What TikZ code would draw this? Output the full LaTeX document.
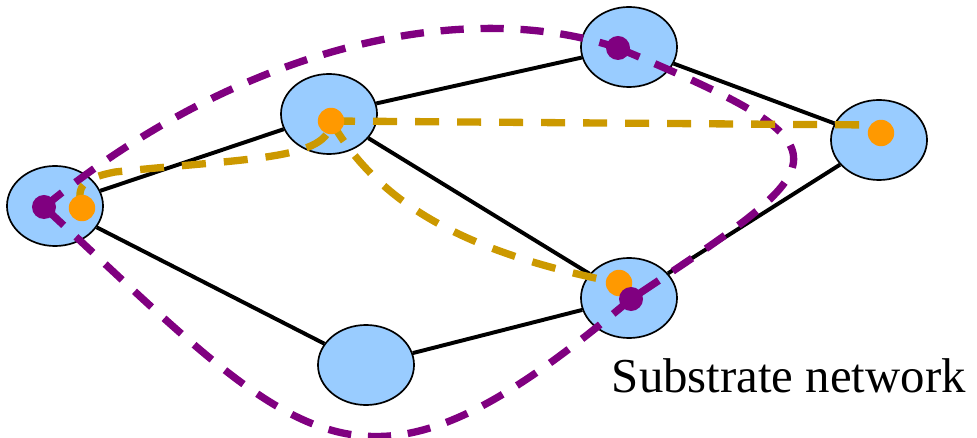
\documentclass[tikz,border=0pt]{standalone}
\usepackage{fontspec}
\setmainfont{Liberation Serif}
\usetikzlibrary{shapes.geometric}
\usetikzlibrary{positioning}

\definecolor{subblue}{HTML}{99CCFF}
\definecolor{vpurple}{HTML}{800080}
\definecolor{vorange}{HTML}{FF9900}
\definecolor{vgold}{HTML}{CC9900}

\tikzset{
snode/.style={ellipse, draw, fill=subblue, line width=1.2pt,
  minimum width=2.4cm, minimum height=2cm, inner sep=0pt},
slink/.style={line width=2.8pt},
pdot/.style={circle, fill=vpurple, minimum size=0.6cm, inner sep=0pt},
odot/.style={circle, fill=vorange, minimum size=0.66cm, inner sep=0pt},
pmap/.style={vpurple, line width=5.2pt, dash pattern=on 0.58cm off 0.42cm},
omap/.style={vgold, line width=5.2pt, dash pattern=on 0.6cm off 0.45cm},
}

\begin{document}
\begin{tikzpicture}[x=0.025cm, y=-0.025cm]
\useasboundingbox (0,0) rectangle (977,438);
% substrate nodes
\node[snode] (a) at (55,206) {};
\node[snode] (b) at (329,114) {};
\node[snode] (c) at (629,47) {};
\node[snode] (d) at (879,140) {};
\node[snode] (e) at (629,298) {};
\node[snode] (f) at (366,365) {};
% substrate links
\draw[slink] (a) -- (b);
\draw[slink] (a) -- (f);
\draw[slink] (b) -- (c);
\draw[slink] (b) -- (e);
\draw[slink] (c) -- (d);
\draw[slink] (d) -- (e);
\draw[slink] (f) -- (e);
% mapped virtual nodes
\coordinate (pa) at (44,207);
\coordinate (oa) at (82,208);
\coordinate (ob) at (331,121);
\coordinate (pc) at (618,48);
\coordinate (od) at (881,133);
\coordinate (odin) at (872,125);
\coordinate (oe) at (619,283);
\coordinate (pe) at (631,299);
% purple request
\draw[pmap] (pa) .. controls (235,50) and (460,-5) .. (pc);
\draw[pmap] (pc) .. controls (860,150) and (840,160) .. (pe);
\draw[pmap] (pe) .. controls (358,530) and (306,450) .. (pa);
% orange request
\draw[omap] (oa) .. controls (75,185) and (85,178) .. (115,172)
  .. controls (250,158) and (330,160) .. (ob);
\draw[omap] (ob) -- (odin);
\draw[omap] (ob) .. controls (381,208) and (472,254) .. (oe);
% dots
\node[odot] (oadot) at (oa) {};
\node[odot] (obdot) at (ob) {};
\node[odot] (oddot) at (od) {};
\node[odot] (oedot) at (oe) {};
\node[pdot] (padot) at (pa) {};
\node[pdot] (pcdot) at (pc) {};
\node[pdot] (pedot) at (pe) {};
\node[anchor=base west, font=\fontsize{34.7}{40}\selectfont] (label) at (607,392) {Substrate network};
\end{tikzpicture}
\end{document}
